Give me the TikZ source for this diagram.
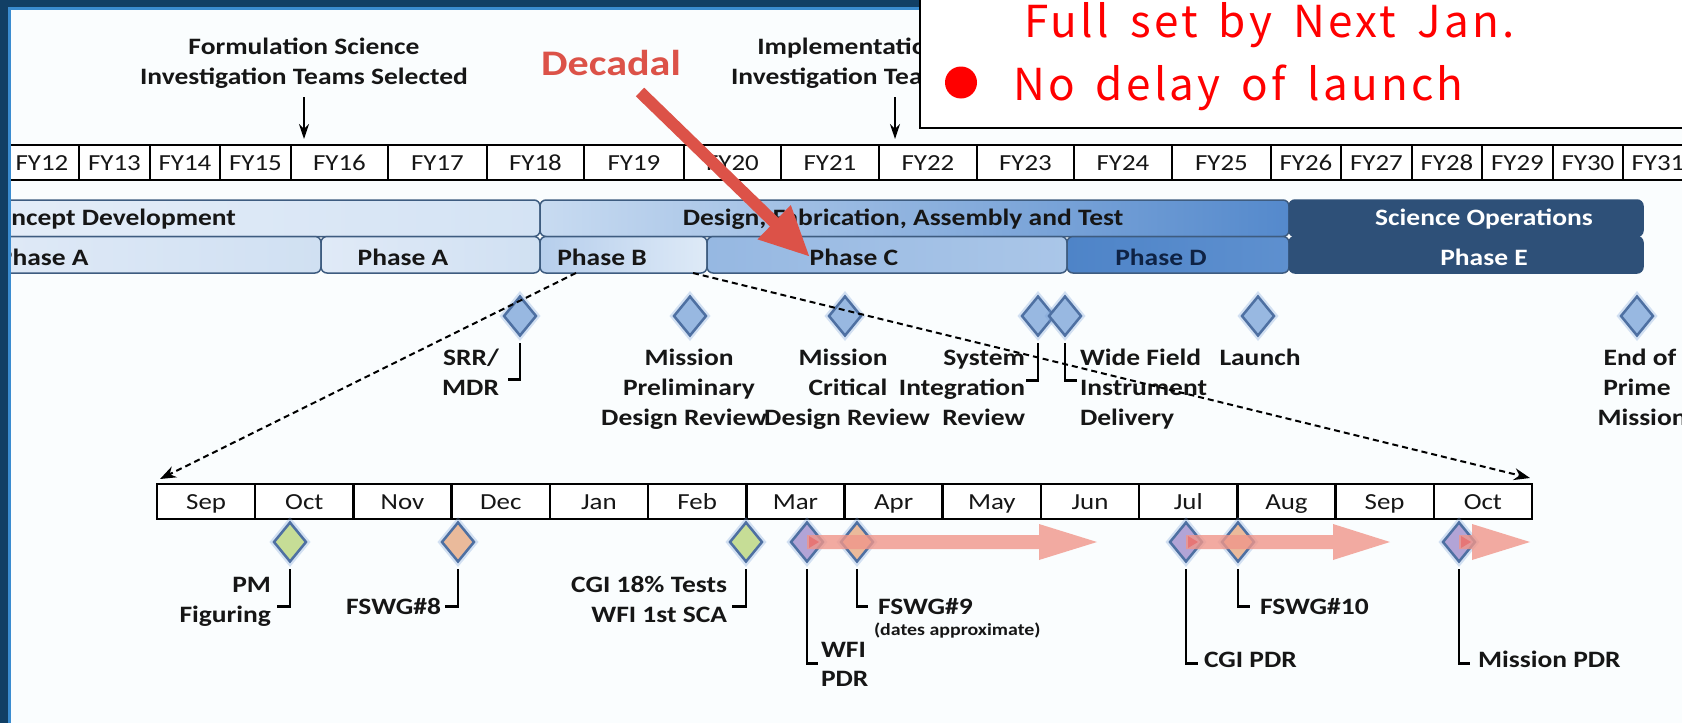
\documentclass[tikz,border=0pt]{standalone}
\usepackage{fontspec}
\setmainfont{Carlito}[FakeStretch=1.17]
\newfontfamily\notefont[LetterSpace=7.5,WordSpace=1.6]{Noto Sans CJK JP}
\usetikzlibrary{arrows.meta,shapes.geometric,calc}

% palette
\definecolor{paper}{RGB}{250,253,254}
\definecolor{frameblue}{RGB}{17,63,101}
\definecolor{framelight}{RGB}{58,140,208}
\definecolor{ink}{RGB}{22,22,22}
\definecolor{decred}{RGB}{220,82,72}
\definecolor{boxred}{RGB}{255,0,0}
\definecolor{barline}{RGB}{62,92,128}
\definecolor{cdA}{RGB}{228,237,248}
\definecolor{cdB}{RGB}{212,227,244}
\definecolor{dfA}{RGB}{200,219,241}
\definecolor{dfM}{RGB}{158,190,229}
\definecolor{dfB}{RGB}{84,137,204}
\definecolor{paA}{RGB}{224,234,247}
\definecolor{paB}{RGB}{208,224,242}
\definecolor{pbA}{RGB}{182,206,236}
\definecolor{pbB}{RGB}{222,234,247}
\definecolor{pcA}{RGB}{150,184,226}
\definecolor{pcB}{RGB}{170,198,232}
\definecolor{pdA}{RGB}{78,132,200}
\definecolor{pdB}{RGB}{94,144,207}
\definecolor{ops}{RGB}{46,80,120}
\definecolor{pdink}{RGB}{14,34,68}
\definecolor{msfill}{RGB}{152,184,225}
\definecolor{msedge}{RGB}{78,112,162}
\definecolor{halo}{RGB}{120,160,215}
\definecolor{mgreen}{RGB}{198,221,150}
\definecolor{morange}{RGB}{234,186,155}
\definecolor{mpurple}{RGB}{178,164,214}
\definecolor{salmon}{RGB}{240,150,138}
\definecolor{tri}{RGB}{232,96,96}

\tikzset{
  lbl/.style={font=\bfseries\fontsize{23.5}{28}\selectfont, text=ink, inner sep=0pt, outer sep=0pt},
  note/.style={font=\bfseries\fontsize{17}{20}\selectfont, text=ink, inner sep=0pt, outer sep=0pt},
  cell/.style={draw=black, line width=2pt, fill=white, minimum height=35pt, inner sep=0pt,
    outer sep=0pt, font=\fontsize{23}{28}\selectfont, text height=15pt, text depth=0pt, text=ink},
  bar/.style={draw=barline, line width=1.5pt, rounded corners=6pt, minimum height=36.5pt,
    inner sep=0pt, outer sep=0pt, anchor=north west},
  ms/.style={diamond, draw=msedge, line width=2.5pt, minimum width=33pt, minimum height=40pt,
    inner sep=0pt, preaction={draw=halo, line width=7pt, opacity=0.3}},
  bracket/.style={draw=black, line width=2.5pt},
  zoomline/.style={draw=black, line width=2pt, dash pattern=on 6pt off 4pt,
    -{Stealth[length=16pt,width=12pt]}},
  tarrow/.style={draw=black, line width=1.8pt, -{Stealth[length=15pt,width=10pt]}},
  decarrow/.style={draw=decred, line width=12pt, -{Triangle[length=50pt,width=44pt]}},
  pinkarr/.style={fill=salmon, opacity=0.8},
  redtri/.style={fill=tri, opacity=0.6},
  bigred/.style={font=\notefont\fontsize{44}{50}\selectfont, text=boxred, inner sep=0pt, outer sep=0pt},
}

\begin{document}
\begin{tikzpicture}[x=1pt,y=-1pt]
\useasboundingbox (0,0) rectangle (1682,723);
\clip (0,0) rectangle (1682,723);
\fill[paper] (0,0) rectangle (1682,723);

% ---- selection milestones above the fiscal years
\node[lbl, anchor=base] (f1) at (304,54) {Formulation Science};
\node[lbl, anchor=base] (f2) at (304,84) {Investigation Teams Selected};
\node[lbl, anchor=base] (i1) at (895,54) {Implementation Science};
\node[lbl, anchor=base] (i2) at (895,84) {Investigation Teams Selected};
\coordinate (ftip) at (304,139);
\coordinate (itip) at (895,139);
\draw[tarrow] ($(f2.base)+(0,13)$) -- (ftip);
\draw[tarrow] ($(i2.base)+(0,13)$) -- (itip);

% ---- fiscal year row
\foreach \n/\c/\w in {12/42/74, 13/114.5/71, 14/185/70, 15/255.5/71, 16/339.5/97,
  17/437.5/99, 18/535.5/97, 19/634/100, 20/732.5/97, 21/830/98, 22/928/98,
  23/1025.5/97, 24/1123/98, 25/1221.5/99, 26/1306/70, 27/1376.5/71, 28/1447/70,
  29/1517.5/71, 30/1588/70, 31/1658/70}
  \node[cell, minimum width=\w pt] (fy\n) at (\c,162.5) {FY\n};

% ---- project phases
\node[bar, minimum width=570pt, left color=cdA, right color=cdB] (cd) at (-30,200) {};
\node[bar, minimum width=749pt, left color=dfA, middle color=dfM, right color=dfB] (dfat) at (540,200) {};
\node[bar, minimum width=354pt, fill=ops, draw=ops] (sops) at (1289,200) {};
\node[bar, minimum width=351pt, left color=paA, right color=paB] (pa1) at (-30,236.5) {};
\node[bar, minimum width=219pt, left color=paA, right color=paB] (pa2) at (321,236.5) {};
\node[bar, minimum width=167pt, left color=pbA, right color=pbB] (pb) at (540,236.5) {};
\node[bar, minimum width=360pt, left color=pcA, right color=pcB] (pc) at (707,236.5) {};
\node[bar, minimum width=222pt, left color=pdA, right color=pdB] (pd) at (1067,236.5) {};
\node[bar, minimum width=354pt, fill=ops, draw=ops] (pe) at (1289,236.5) {};

\node[lbl, anchor=base west] (cdt) at (-18,225) {Concept Development};
\node[lbl, anchor=base] (dfatt) at (903,225) {Design, Fabrication, Assembly and Test};
\node[lbl, anchor=base, text=white] (sopst) at (1484,225) {Science Operations};
\node[lbl, anchor=base west] (pa1t) at (-2,265) {Phase A};
\node[lbl, anchor=base] (pa2t) at (403,265) {Phase A};
\node[lbl, anchor=base] (pbt) at (602,265) {Phase B};
\node[lbl, anchor=base] (pct) at (854,265) {Phase C};
\node[lbl, anchor=base, text=pdink] (pdt) at (1161,265) {Phase D};
\node[lbl, anchor=base, text=white] (pet) at (1484,265) {Phase E};

% ---- project milestones
\node[ms, fill=msfill] (srr) at (520,316) {};
\node[ms, fill=msfill] (mpdr) at (690,316) {};
\node[ms, fill=msfill] (mcdr) at (845,316) {};
\node[ms, fill=msfill] (sir) at (1038,316) {};
\node[ms, fill=msfill] (wfid) at (1065,316) {};
\node[ms, fill=msfill] (lnch) at (1258,316) {};
\node[ms, fill=msfill] (eopm) at (1637,316) {};

\node[lbl, anchor=base east] (srr1) at (499,365) {SRR/};
\node[lbl, anchor=base east] (srr2) at (499,395) {MDR};
\draw[bracket] ($(srr.south)+(0,6)$) -- ++(0,36) -- ++(-12,0);

\node[lbl, anchor=base] (mpdr1) at (689,365) {Mission};
\node[lbl, anchor=base] (mpdr2) at (689,395) {Preliminary};
\node[lbl, anchor=base] (mpdr3) at (684,425) {Design Review};

\node[lbl, anchor=base] (mcdr1) at (843,365) {Mission};
\node[lbl, anchor=base] (mcdr2) at (848,395) {Critical};
\node[lbl, anchor=base] (mcdr3) at (847,425) {Design Review};

\node[lbl, anchor=base east] (sir1) at (1025,365) {System};
\node[lbl, anchor=base east] (sir2) at (1025,395) {Integration};
\node[lbl, anchor=base east] (sir3) at (1025,425) {Review};
\draw[bracket] ($(sir.south)+(0,6)$) -- ++(0,37) -- ++(-12,0);

\node[lbl, anchor=base west] (wfid1) at (1080,365) {Wide Field};
\node[lbl, anchor=base west] (wfid2) at (1080,395) {Instrument};
\node[lbl, anchor=base west] (wfid3) at (1080,425) {Delivery};
\draw[bracket] ($(wfid.south)+(0,6)$) -- ++(0,37) -- ++(12,0);

\node[lbl, anchor=base] (lnch1) at (1260,365) {Launch};

\node[lbl, anchor=base] (eopm1) at (1640,365) {End of};
\node[lbl, anchor=base] (eopm2) at (1637,395) {Prime};
\node[lbl, anchor=base] (eopm3) at (1642,425) {Mission};

% ---- month row (expanded view of Phase B)
\foreach \m [count=\i from 0] in {Sep,Oct,Nov,Dec,Jan,Feb,Mar,Apr,May,Jun,Jul,Aug,Sep,Oct}
  \node[cell, line width=2.5pt, minimum width=98.2pt] (m\i) at ({157+98.214*(\i+0.5)},501.5) {\m};

\draw[zoomline] ($(pb.south west)+(36,0)$) -- ($(m0.north west)+(3,-5)$);
\draw[zoomline] ($(pb.south east)+(-14,0)$) -- ($(m13.north east)+(-2,-6)$);

% ---- detailed milestones
\node[ms, fill=mgreen] (pmf) at (290,542) {};
\node[ms, fill=morange] (fs8) at (458,542) {};
\node[ms, fill=mgreen] (cgt) at (746,542) {};
\node[ms, fill=mpurple] (wpdr) at (807,542) {};
\node[ms, fill=morange] (fs9) at (857,542) {};
\node[ms, fill=mpurple] (cpdr) at (1186,542) {};
\node[ms, fill=morange] (fs10) at (1238,542) {};
\node[ms, fill=mpurple] (mspdr) at (1459,542) {};

% uncertainty arrows
\coordinate (ta) at (1097,542);
\coordinate (tb) at (1390,542);
\coordinate (tc) at (1530,542);
\fill[pinkarr] ($(wpdr.center)+(0,-7)$) -| ($(ta)+(-58,-18)$) -- (ta) -- ($(ta)+(-58,18)$) |- ($(wpdr.center)+(0,7)$) -- cycle;
\fill[pinkarr] ($(cpdr.center)+(0,-7)$) -| ($(tb)+(-57,-18)$) -- (tb) -- ($(tb)+(-57,18)$) |- ($(cpdr.center)+(0,7)$) -- cycle;
\fill[pinkarr] ($(mspdr.center)+(0,-7)$) -| ($(tc)+(-58,-18)$) -- (tc) -- ($(tc)+(-58,18)$) |- ($(mspdr.center)+(0,7)$) -- cycle;
\foreach \d in {wpdr,cpdr,mspdr}
  \fill[redtri] ($(\d.center)+(2,-6)$) -- ++(10,6) -- ++(-10,6) -- cycle;

\node[lbl, anchor=base east] (pmf1) at (271,592) {PM};
\node[lbl, anchor=base east] (pmf2) at (271,622) {Figuring};
\draw[bracket] ($(pmf.south)+(0,6)$) -- ++(0,37) -- ++(-13,0);

\node[lbl, anchor=base east] (fs8l) at (441,614) {FSWG\#8};
\draw[bracket] ($(fs8.south)+(0,6)$) -- ++(0,37) -- ++(-13,0);

\node[lbl, anchor=base east] (cgt1) at (727,592) {CGI 18\% Tests};
\node[lbl, anchor=base east] (cgt2) at (727,622) {WFI 1st SCA};
\draw[bracket] ($(cgt.south)+(0,6)$) -- ++(0,37) -- ++(-14,0);

\node[lbl, anchor=base west] (wpdr1) at (821,657) {WFI};
\node[lbl, anchor=base west] (wpdr2) at (821,686) {PDR};
\draw[bracket] ($(wpdr.south)+(0,6)$) -- ++(0,94) -- ++(11,0);

\node[lbl, anchor=base west] (fs9l) at (878,614) {FSWG\#9};
\node[note, anchor=base west] (fs9n) at (874,635) {(dates approximate)};
\draw[bracket] ($(fs9.south)+(0,6)$) -- ++(0,37) -- ++(11,0);

\node[lbl, anchor=base west] (cpdrl) at (1204,667) {CGI PDR};
\draw[bracket] ($(cpdr.south)+(0,6)$) -- ++(0,94) -- ++(12,0);

\node[lbl, anchor=base west] (fs10l) at (1260,614) {FSWG\#10};
\draw[bracket] ($(fs10.south)+(0,6)$) -- ++(0,37) -- ++(12,0);

\node[lbl, anchor=base west] (mspdrl) at (1478,667) {Mission PDR};
\draw[bracket] ($(mspdr.south)+(0,6)$) -- ++(0,94) -- ++(11,0);

% ---- decadal pointer
\node[font=\bfseries\fontsize{36}{40}\selectfont, text=decred, inner sep=0pt, anchor=base] (dec) at (611,75) {Decadal};
\coordinate (dectip) at (810,257);
\draw[decarrow] ($(dec.base)+(29,17)$) -- (dectip);

% ---- slide frame
\fill[framelight] (0,0) rectangle (10.5,723);
\fill[framelight] (0,0) rectangle (1682,9.5);
\fill[frameblue] (0,0) rectangle (7.5,723);
\fill[frameblue] (0,0) rectangle (1682,7);

% ---- status note
\filldraw[fill=white, draw=black, line width=2.5pt] (920,-20) rectangle (1720,128);
\node[bigred, anchor=base west] (note1) at (1024,37) {Full set by Next Jan.};
\fill[boxred] (961,82.5) circle[radius=16pt];
\node[bigred, anchor=base west] (note2) at (1013,100) {No delay of launch};
\end{tikzpicture}
\end{document}
